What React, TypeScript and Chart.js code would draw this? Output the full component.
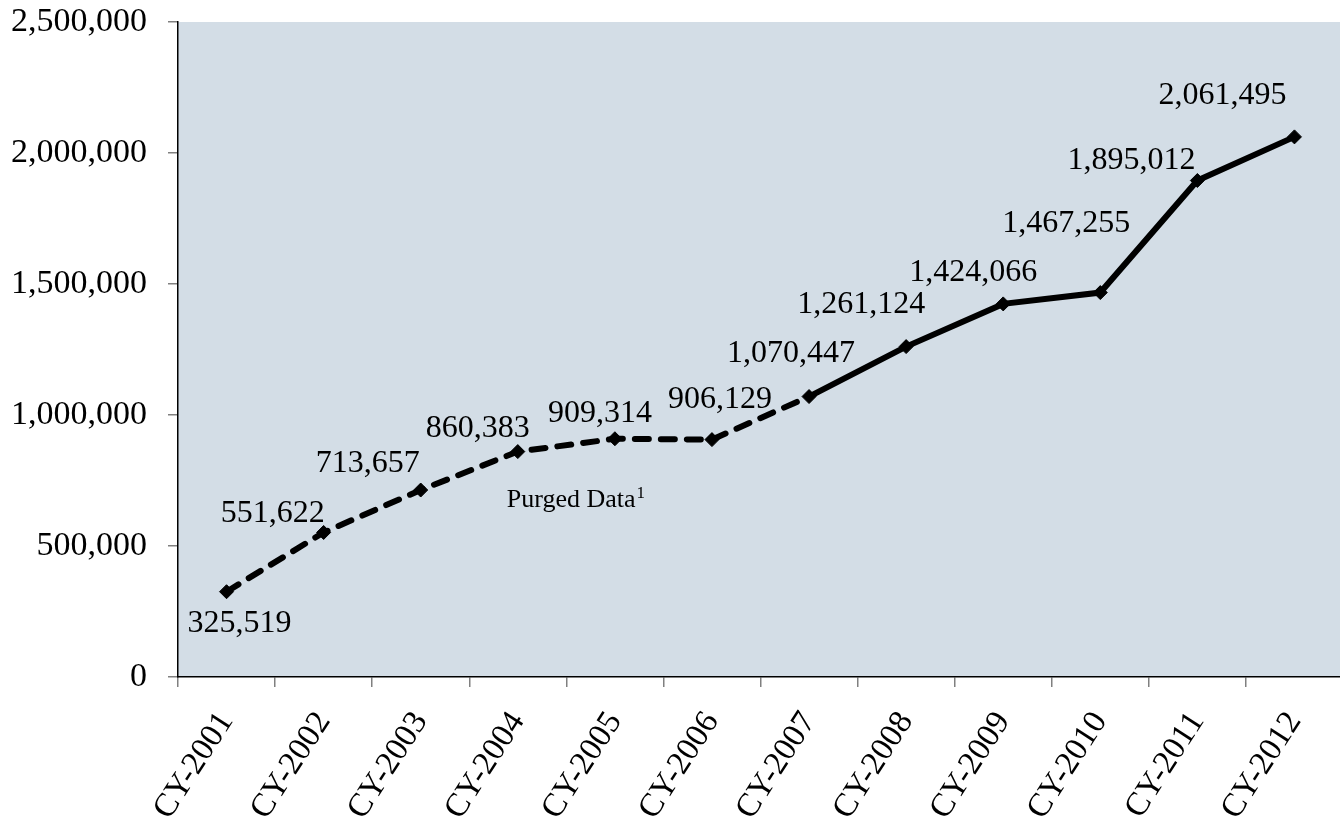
import React, { useEffect, useRef } from "react";
import { Chart, registerables } from "chart.js";

Chart.register(...registerables);

const categories = [
  "CY-2001", "CY-2002", "CY-2003", "CY-2004", "CY-2005", "CY-2006",
  "CY-2007", "CY-2008", "CY-2009", "CY-2010", "CY-2011", "CY-2012",
];

const values = [
  325519, 551622, 713657, 860383, 909314, 906129,
  1070447, 1261124, 1424066, 1467255, 1895012, 2061495,
];

// index of the last point of the dashed (purged data) stretch
const purgedEndIndex = 6;

const yTicks = [0, 500000, 1000000, 1500000, 2000000, 2500000];

// label placement relative to each point (dx, dy in px) – layout only
const labelOffsets: [number, number][] = [
  [13, 29], [-51, -21], [-53, -29], [-40, -26], [-15, -28], [8, -43],
  [-18, -46], [-45, -45], [-30, -34], [-34, -72], [-66, -23], [-72, -44],
];

const FONT = '"Liberation Serif", "Times New Roman", serif';
const PLOT_BG = "rgb(211,221,230)";

const fmt = (v: number) => v.toLocaleString("en-US");

export default function App() {
  const ref = useRef<HTMLCanvasElement | null>(null);

  useEffect(() => {
    const canvas = ref.current;
    if (!canvas) return;

    const bgPlugin = {
      id: "plotBg",
      beforeDraw(chart: any) {
        const { ctx, chartArea } = chart;
        ctx.save();
        ctx.fillStyle = PLOT_BG;
        ctx.fillRect(chartArea.left, chartArea.top, chartArea.right - chartArea.left, chartArea.bottom - chartArea.top);
        ctx.restore();
      },
    };

    const labelPlugin = {
      id: "valueLabels",
      afterDatasetsDraw(chart: any) {
        const { ctx } = chart;
        const meta = chart.getDatasetMeta(0);
        ctx.save();
        ctx.fillStyle = "#000";
        ctx.font = `32px ${FONT}`;
        ctx.textAlign = "center";
        ctx.textBaseline = "alphabetic";
        meta.data.forEach((pt: any, i: number) => {
          const [dx, dy] = labelOffsets[i];
          ctx.fillText(fmt(values[i]), pt.x + dx, pt.y + dy + 11);
        });
        // annotation
        const xs = chart.scales.x;
        const ys = chart.scales.y;
        const ax = xs.getPixelForValue(3) - 11;
        const ay = ys.getPixelForValue(650000);
        ctx.textAlign = "left";
        ctx.font = `26px ${FONT}`;
        const main = "Purged Data";
        ctx.fillText(main, ax, ay);
        const w = ctx.measureText(main).width;
        ctx.font = `17px ${FONT}`;
        ctx.fillText("1", ax + w + 1, ay - 9);
        ctx.restore();
      },
    };

    const chart = new Chart(canvas, {
      type: "line",
      data: {
        labels: categories,
        datasets: [
          {
            data: values,
            borderColor: "#000",
            backgroundColor: "#000",
            borderWidth: 6,
            borderCapStyle: "round",
            pointStyle: "rectRot",
            pointRadius: 7,
            pointBorderWidth: 1,
            pointBackgroundColor: "#000",
            pointBorderColor: "#000",
            tension: 0,
            segment: {
              borderDash: (c: any) => (c.p1DataIndex <= purgedEndIndex ? [14, 12] : undefined),
            },
          } as any,
        ],
      },
      options: {
        responsive: false,
        animation: false,
        devicePixelRatio: 1,
        layout: { padding: { top: 22, right: 0, left: 0, bottom: 0 } },
        plugins: {
          legend: { display: false },
          tooltip: { enabled: false },
        },
        scales: {
          x: {
            type: "category",
            offset: true,
            grid: {
              offset: true,
              drawOnChartArea: false,
              drawTicks: true,
              tickLength: 10,
              color: "#808080",
              lineWidth: 1.5,
            },
            border: { display: true, color: "#000", width: 1.5 },
            ticks: {
              font: { family: FONT, size: 33 },
              color: "#000",
              maxRotation: 57,
              minRotation: 57,
              autoSkip: false,
              padding: 18,
            },
            afterFit: (s: any) => {
              s.height = 148;
            },
          },
          y: {
            min: 0,
            max: 2500000,
            afterBuildTicks: (s: any) => {
              s.ticks = yTicks.map((v) => ({ value: v }));
            },
            grid: {
              drawOnChartArea: false,
              drawTicks: true,
              tickLength: 10,
              color: "#808080",
              lineWidth: 1.5,
            },
            border: { display: true, color: "#000", width: 1.5 },
            ticks: {
              font: { family: FONT, size: 34 },
              color: "#000",
              padding: 21,
              callback: (v: any) => fmt(Number(v)),
            },
            afterFit: (s: any) => {
              s.width = 178;
              s.paddingTop = 0;
              s.paddingBottom = 0;
            },
          },
        },
      },
      plugins: [bgPlugin, labelPlugin],
    } as any);

    return () => chart.destroy();
  }, []);

  return (
    <div style={{ position: "fixed", left: 0, top: 0, width: 1340, height: 825, overflow: "hidden", background: "#fff" }}>
      <canvas ref={ref} width={1351} height={825} style={{ display: "block", width: 1351, height: 825 }} />
    </div>
  );
}
